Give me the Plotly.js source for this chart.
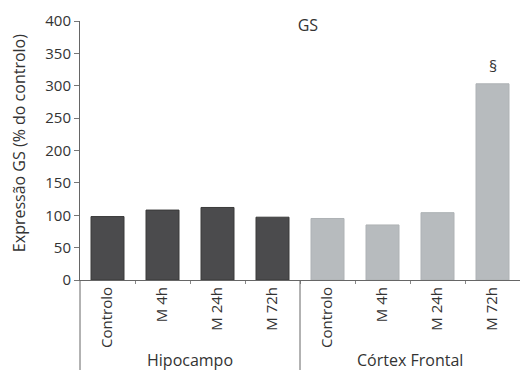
<!DOCTYPE html>
<html>
<head>
<meta charset="utf-8">
<script src="https://cdn.plot.ly/plotly-3.0.1.min.js"></script>
<style>html,body{margin:0;padding:0;background:#fff;}#chart{width:520px;height:370px;}</style>
</head>
<body>
<div id="chart"></div>
<script>
var tickLabels = ["Controlo", "M 4h", "M 24h", "M 72h", "Controlo", "M 4h", "M 24h", "M 72h"];
var groups = ["Hipocampo", "Córtex Frontal"];
var hipPositions = [0, 1, 2, 3];
var cfPositions = [4, 5, 6, 7];
var hipValues = [98, 108, 112, 97];
var cfValues = [95, 85, 104, 303];
var markText = "§";
var markIndex = 3;
var yTicks = [0, 50, 100, 150, 200, 250, 300, 350, 400];

var tickFont = {family: "Open Sans, sans-serif", size: 15, color: "#333"};
var bigFont = {family: "Open Sans, sans-serif", size: 16, color: "#333"};

var traces = [
  {type: "bar", x: hipPositions, y: hipValues, width: 0.6,
   marker: {color: "#4b4b4d", line: {color: "#3a3a3a", width: 1}}, showlegend: false, hoverinfo: "none"},
  {type: "bar", x: cfPositions, y: cfValues, width: 0.6,
   marker: {color: "#b7bbbe", line: {color: "#aeb2b5", width: 1}}, showlegend: false, hoverinfo: "none"},
  {type: "scatter", x: [], y: [], xaxis: "x2", showlegend: false}
];

var allPos = hipPositions.concat(cfPositions);
var boundaries = allPos.slice(0, -1).map(function(p){ return p + 0.5; });

var layout = {
  width: 520, height: 370,
  margin: {l: 80, r: 0, t: 21, b: 90},
  paper_bgcolor: "#fff", plot_bgcolor: "#fff",
  font: tickFont,
  title: {text: "GS", font: bigFont,
          x: 0.592, xanchor: "center", y: 0.932, yanchor: "middle"},
  xaxis: {range: [-0.5, 7.5], tickmode: "array", tickvals: allPos, ticktext: tickLabels,
          tickangle: -90, ticks: "", showgrid: false, zeroline: false, showline: true,
          linecolor: "#666", linewidth: 1, tickfont: tickFont, fixedrange: true},
  xaxis2: {range: [-0.5, 7.5], overlaying: "x", anchor: "y", side: "bottom",
           tickmode: "array", tickvals: boundaries, ticks: "outside", ticklen: 3,
           tickcolor: "#888", showticklabels: false, showgrid: false, zeroline: false,
           showline: false},
  yaxis: {range: [0, 400], tickmode: "array", tickvals: yTicks, ticks: "outside",
          ticklen: 5, tickcolor: "#777", showgrid: false, zeroline: false, showline: true,
          linecolor: "#666", linewidth: 1, tickfont: tickFont, fixedrange: true},
  shapes: [
    {type: "line", xref: "paper", yref: "paper", x0: 0, x1: 0, y0: 0, y1: -0.35,
     line: {color: "#666", width: 1}},
    {type: "line", xref: "paper", yref: "paper", x0: 0.5, x1: 0.5, y0: 0, y1: -0.35,
     line: {color: "#666", width: 1}}
  ],
  annotations: [
    {text: "Expressão GS (% do controlo)", xref: "paper", yref: "paper",
     x: -0.14, y: 0.53, xanchor: "center", yanchor: "middle", textangle: -90,
     showarrow: false, font: bigFont},
    {text: groups[0], xref: "x", yref: "paper", x: 1.5, y: -0.31,
     xanchor: "center", yanchor: "middle", showarrow: false, font: bigFont},
    {text: groups[1], xref: "x", yref: "paper", x: 5.5, y: -0.31,
     xanchor: "center", yanchor: "middle", showarrow: false, font: bigFont},
    {text: markText, xref: "x", yref: "y", x: cfPositions[markIndex], y: cfValues[markIndex],
     xanchor: "center", yanchor: "bottom", yshift: 5, showarrow: false, font: bigFont}
  ]
};

Plotly.newPlot("chart", traces, layout, {displayModeBar: false, staticPlot: true});
</script>
</body>
</html>
